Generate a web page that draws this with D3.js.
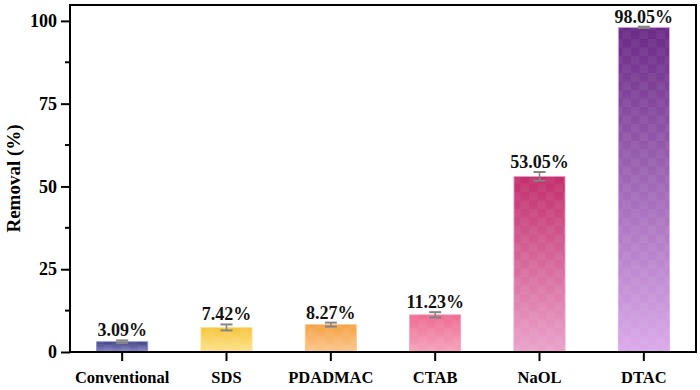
<!DOCTYPE html>
<html>
<head>
<meta charset="utf-8">
<script src="https://cdn.jsdelivr.net/npm/d3@7"></script>
<style>
  body { margin: 0; background: #fff; }
  text { font-family: "Liberation Serif", "Times New Roman", serif; font-weight: bold; }
</style>
</head>
<body>
<svg width="700" height="390"></svg>
<script>
// Data
let categories = ["Conventional", "SDS", "PDADMAC", "CTAB", "NaOL", "DTAC"];
let removal = [3.09, 7.42, 8.27, 11.23, 53.05, 98.05];
let errors = [0.4, 0.9, 0.6, 0.8, 1.3, 0.2];
let yTicks = [0, 25, 50, 75, 100];

// gradient colours for each bar, top -> bottom
let topColors = ["#3e3e84", "#f7c53c", "#f5a244", "#ee6b93", "#c22f6c", "#6a2a86"];
let bottomColors = ["#8a8ac8", "#fde38e", "#fbc78e", "#f5a3bd", "#eba3cb", "#dbaaea"];

let margin = {top: 5, right: 4, bottom: 38, left: 70};
let width = 700 - margin.left - margin.right;
let height = 390 - margin.top - margin.bottom;

let svg = d3.select("svg");
let defs = svg.append("defs");

categories.forEach(function (c, i) {
    let g = defs.append("linearGradient")
        .attr("id", "grad" + i)
        .attr("x1", 0).attr("y1", 0).attr("x2", 0).attr("y2", 1);
    g.append("stop").attr("offset", "0%").attr("stop-color", topColors[i]);
    g.append("stop").attr("offset", "100%").attr("stop-color", bottomColors[i]);
});

// faint checker overlay
let pat = defs.append("pattern")
    .attr("id", "checker")
    .attr("width", 17).attr("height", 17)
    .attr("patternUnits", "userSpaceOnUse");
pat.append("rect").attr("width", 8.5).attr("height", 8.5).attr("fill", "#fff").attr("fill-opacity", 0.05);
pat.append("rect").attr("x", 8.5).attr("y", 8.5).attr("width", 8.5).attr("height", 8.5).attr("fill", "#fff").attr("fill-opacity", 0.05);

let chart = svg.append("g")
    .attr("transform", "translate(" + margin.left + "," + margin.top + ")");

let x = d3.scaleBand()
    .domain(categories)
    .range([0, width])
    .paddingInner(0.51)
    .paddingOuter(0.255);

let y = d3.scaleLinear()
    .domain([0, 104.8])
    .range([height, 0]);

// bars
let bars = chart.append("g")
    .selectAll("g")
    .data(categories)
    .join("g");

bars.append("rect")
    .attr("x", d => x(d))
    .attr("y", (d, i) => y(removal[i]))
    .attr("width", x.bandwidth())
    .attr("height", (d, i) => y(0) - y(removal[i]))
    .style("fill", (d, i) => "url(#grad" + i + ")")
    .style("stroke", (d, i) => bottomColors[i])
    .style("stroke-width", 0.8);

bars.append("rect")
    .attr("x", d => x(d))
    .attr("y", (d, i) => y(removal[i]))
    .attr("width", x.bandwidth())
    .attr("height", (d, i) => y(0) - y(removal[i]))
    .style("fill", "url(#checker)");

// error bars
let cap = 6;
bars.append("line")
    .attr("x1", d => x(d) + x.bandwidth() / 2)
    .attr("x2", d => x(d) + x.bandwidth() / 2)
    .attr("y1", (d, i) => y(removal[i] - errors[i]))
    .attr("y2", (d, i) => y(removal[i] + errors[i]))
    .style("stroke", "#858585").style("stroke-width", 1.5);
bars.append("line")
    .attr("x1", d => x(d) + x.bandwidth() / 2 - cap)
    .attr("x2", d => x(d) + x.bandwidth() / 2 + cap)
    .attr("y1", (d, i) => y(removal[i] + errors[i]))
    .attr("y2", (d, i) => y(removal[i] + errors[i]))
    .style("stroke", "#858585").style("stroke-width", 2);
bars.append("line")
    .attr("x1", d => x(d) + x.bandwidth() / 2 - cap)
    .attr("x2", d => x(d) + x.bandwidth() / 2 + cap)
    .attr("y1", (d, i) => y(removal[i] - errors[i]))
    .attr("y2", (d, i) => y(removal[i] - errors[i]))
    .style("stroke", "#858585").style("stroke-width", 2);

// value labels
bars.append("text")
    .attr("x", d => x(d) + x.bandwidth() / 2)
    .attr("y", (d, i) => y(removal[i] + errors[i]) - 4)
    .attr("text-anchor", "middle")
    .style("font-size", "18px")
    .style("fill", "#111")
    .text((d, i) => removal[i].toFixed(2) + "%");

// axes
let yAxis = chart.append("g")
    .call(d3.axisLeft(y).tickValues(yTicks).tickSize(9).tickPadding(4));
yAxis.selectAll("text").style("font-size", "18px").style("fill", "#000");

let minor = d3.range(12.5, 104, 25);
chart.append("g")
    .selectAll("line")
    .data(minor)
    .join("line")
    .attr("x1", -5).attr("x2", 0)
    .attr("y1", d => y(d)).attr("y2", d => y(d))
    .style("stroke", "#000").style("stroke-width", 2);

let xAxis = chart.append("g")
    .attr("transform", "translate(0," + height + ")")
    .call(d3.axisBottom(x).tickSize(9).tickPadding(10));
xAxis.selectAll("text").style("font-size", "16.5px").style("fill", "#000");

chart.selectAll(".domain").remove();
chart.selectAll(".tick line").style("stroke", "#000").style("stroke-width", 2);

// frame
chart.append("rect")
    .attr("width", width).attr("height", height)
    .style("fill", "none").style("stroke", "#000").style("stroke-width", 2);

svg.append("text")
    .attr("transform", "translate(20," + (margin.top + height / 2) + ") rotate(-90)")
    .attr("text-anchor", "middle")
    .style("font-size", "19px")
    .text("Removal (%)");
</script>
</body>
</html>
